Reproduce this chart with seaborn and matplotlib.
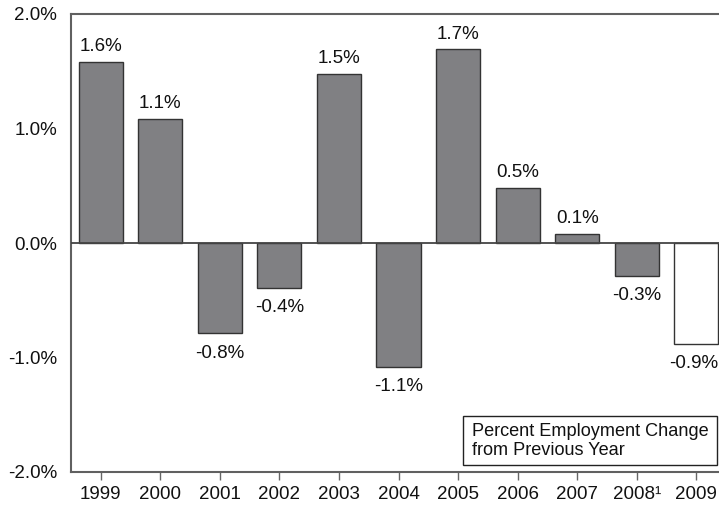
import matplotlib
matplotlib.use("Agg")
import matplotlib.pyplot as plt
from matplotlib.patches import Rectangle
import seaborn as sns
import pandas as pd

years = ["1999", "2000", "2001", "2002", "2003", "2004", "2005", "2006", "2007", "2008¹", "2009"]
values = [1.58, 1.08, -0.79, -0.39, 1.48, -1.08, 1.69, 0.48, 0.08, -0.29, -0.88]
labels = ["1.6%", "1.1%", "-0.8%", "-0.4%", "1.5%", "-1.1%", "1.7%", "0.5%", "0.1%", "-0.3%", "-0.9%"]
fills = ["#808083"] * 10 + ["#ffffff"]
yticks = [-2.0, -1.0, 0.0, 1.0, 2.0]
ytick_labels = ["-2.0%", "-1.0%", "0.0%", "1.0%", "2.0%"]

sns.set_style("white")
plt.rcParams["font.family"] = ["Liberation Sans", "DejaVu Sans"]

FS = 13.5

df = pd.DataFrame({"year": years, "value": values})

fig = plt.figure(figsize=(7.19, 5.08), dpi=100)
ax = fig.add_axes([71 / 719, 36 / 508, 655 / 719, 458 / 508])

sns.barplot(data=df, x="year", y="value", hue="year", palette=fills, order=years,
            hue_order=years, legend=False, width=0.74, edgecolor="#333333",
            linewidth=1.0, saturation=1, ax=ax)

ax.set_xlim(-0.5, len(years) - 0.5)
ax.set_ylim(-2.0, 2.0)
ax.axhline(0, color="#444444", lw=1.3, zorder=5)

for i, (v, lab) in enumerate(zip(values, labels)):
    dx = -2 if i == len(values) - 1 else 0
    if v >= 0:
        ax.annotate(lab, (i, v), xytext=(dx, 5), textcoords="offset points",
                    ha="center", va="bottom", fontsize=FS, color="#111111")
    else:
        ax.annotate(lab, (i, v), xytext=(dx, -8), textcoords="offset points",
                    ha="center", va="top", fontsize=FS, color="#111111")

ax.set_yticks(yticks)
ax.set_yticklabels(ytick_labels, fontsize=FS, color="#111111")
ax.set_xticks(range(len(years)))
ax.set_xticklabels(years, fontsize=FS, color="#111111")
ax.tick_params(axis="y", length=0, pad=10)
ax.tick_params(axis="x", length=6, width=1.0, color="#666666", pad=4, bottom=True)
ax.set_xlabel("")
ax.set_ylabel("")

for side in ["left", "top", "bottom"]:
    ax.spines[side].set_visible(True)
    ax.spines[side].set_color("#606060")
    ax.spines[side].set_linewidth(1.5)
ax.spines["right"].set_visible(False)

fig.add_artist(Rectangle((463 / 719, (508 - 465) / 508), 254 / 719, 49 / 508,
                         transform=fig.transFigure, facecolor="white",
                         edgecolor="#222222", linewidth=1.0, zorder=10))
fig.text(472 / 719, (508 - 441) / 508, "Percent Employment Change\nfrom Previous Year",
         ha="left", va="center", fontsize=13.1, color="#111111", linespacing=1.1, zorder=11)

fig.savefig("out.png", dpi=100)
